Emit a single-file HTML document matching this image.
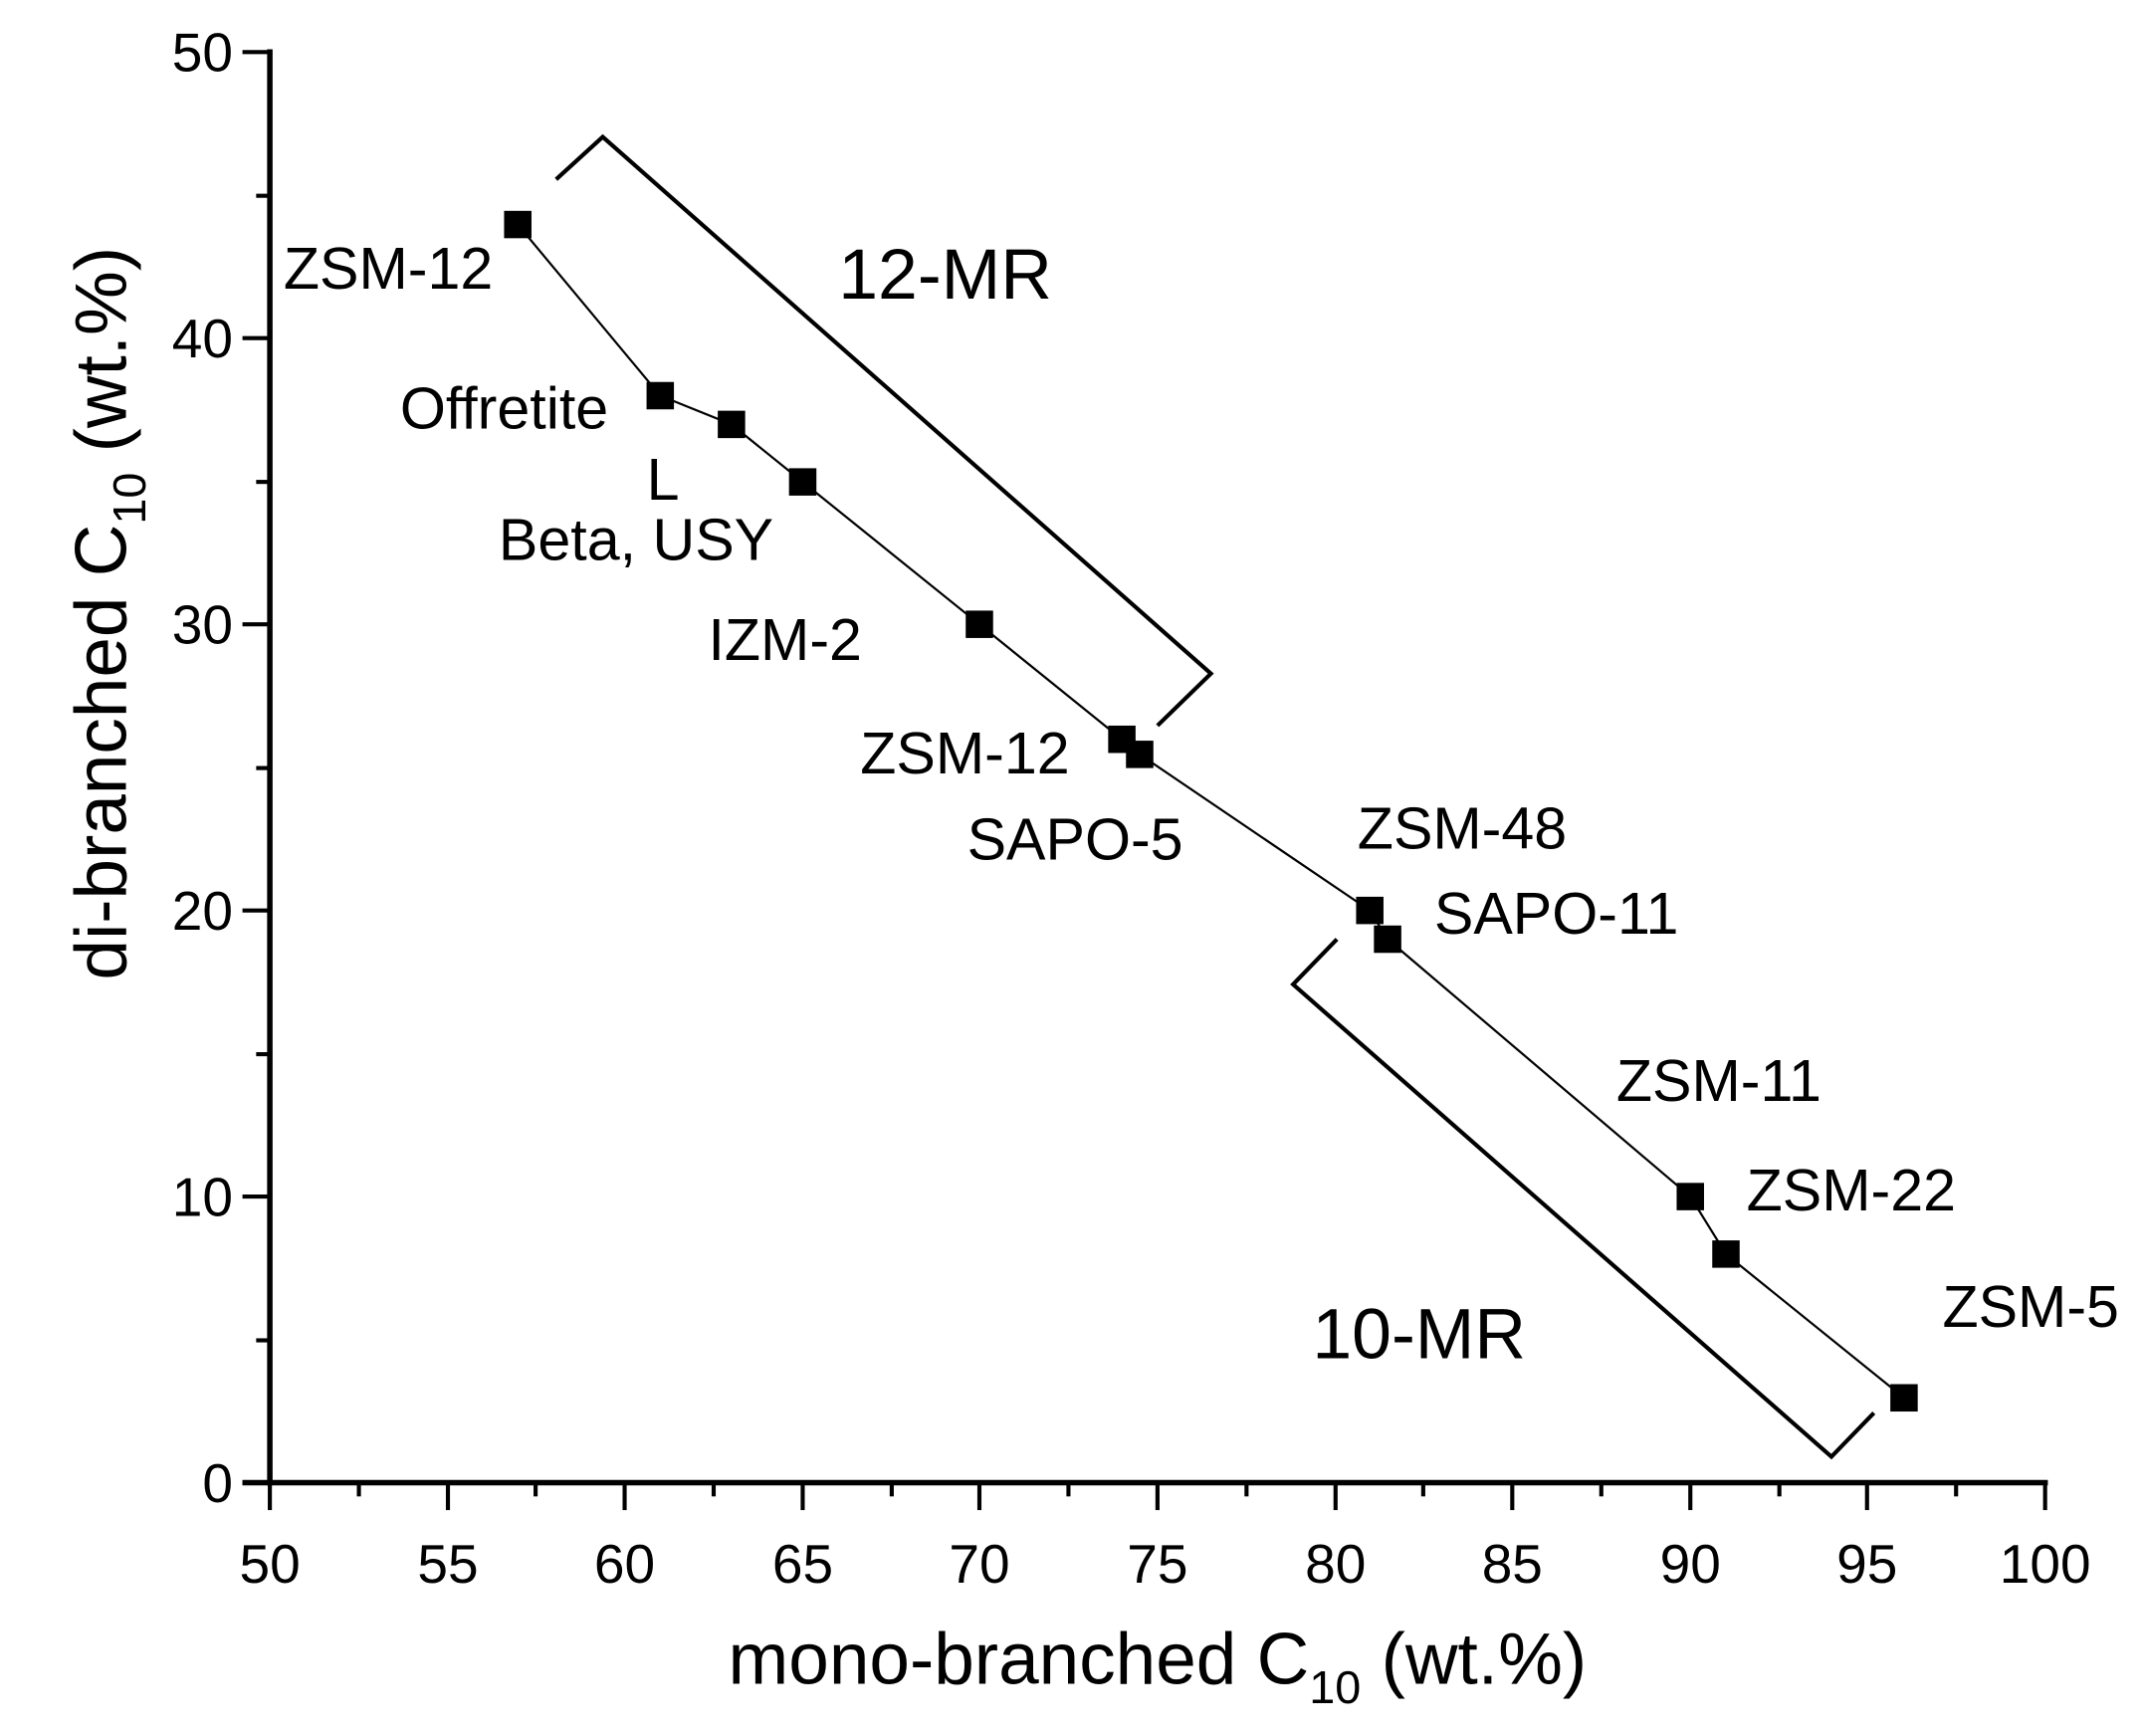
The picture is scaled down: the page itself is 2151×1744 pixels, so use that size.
<!DOCTYPE html>
<html><head><style>html,body{margin:0;padding:0;background:#fff}svg{display:block}</style></head>
<body>
<svg width="2151" height="1744" viewBox="0 0 1563 1268" preserveAspectRatio="none" xmlns="http://www.w3.org/2000/svg" font-family="Liberation Sans, Arial, sans-serif">
<rect width="1563" height="1268" fill="#fff"/>
<g stroke="#000" stroke-width="4" fill="none">
<line x1="197" y1="36" x2="197" y2="1085"/>
<line x1="177" y1="1083" x2="1495" y2="1083"/>
</g>
<g stroke="#000" stroke-width="3">
<line x1="177" y1="38" x2="197" y2="38"/>
<line x1="187" y1="143" x2="197" y2="143"/>
<line x1="177" y1="247" x2="197" y2="247"/>
<line x1="187" y1="352" x2="197" y2="352"/>
<line x1="177" y1="456" x2="197" y2="456"/>
<line x1="187" y1="561" x2="197" y2="561"/>
<line x1="177" y1="665" x2="197" y2="665"/>
<line x1="187" y1="770" x2="197" y2="770"/>
<line x1="177" y1="874" x2="197" y2="874"/>
<line x1="187" y1="979" x2="197" y2="979"/>
<line x1="177" y1="1083" x2="197" y2="1083"/>
<line x1="197" y1="1083" x2="197" y2="1103"/><line x1="262" y1="1083" x2="262" y2="1093"/>
<line x1="327" y1="1083" x2="327" y2="1103"/><line x1="391" y1="1083" x2="391" y2="1093"/>
<line x1="456" y1="1083" x2="456" y2="1103"/><line x1="521" y1="1083" x2="521" y2="1093"/>
<line x1="586" y1="1083" x2="586" y2="1103"/><line x1="651" y1="1083" x2="651" y2="1093"/>
<line x1="715" y1="1083" x2="715" y2="1103"/><line x1="780" y1="1083" x2="780" y2="1093"/>
<line x1="845" y1="1083" x2="845" y2="1103"/><line x1="910" y1="1083" x2="910" y2="1093"/>
<line x1="975" y1="1083" x2="975" y2="1103"/><line x1="1039" y1="1083" x2="1039" y2="1093"/>
<line x1="1104" y1="1083" x2="1104" y2="1103"/><line x1="1169" y1="1083" x2="1169" y2="1093"/>
<line x1="1234" y1="1083" x2="1234" y2="1103"/><line x1="1299" y1="1083" x2="1299" y2="1093"/>
<line x1="1363" y1="1083" x2="1363" y2="1103"/><line x1="1428" y1="1083" x2="1428" y2="1093"/>
<line x1="1493" y1="1083" x2="1493" y2="1103"/>
</g>
<g font-size="40" text-anchor="end">
<text x="170" y="52">50</text><text x="170" y="261">40</text><text x="170" y="470">30</text>
<text x="170" y="679">20</text><text x="170" y="888">10</text><text x="170" y="1097">0</text>
</g>
<g font-size="40" text-anchor="middle">
<text x="197" y="1156">50</text><text x="327" y="1156">55</text><text x="456" y="1156">60</text>
<text x="586" y="1156">65</text><text x="715" y="1156">70</text><text x="845" y="1156">75</text>
<text x="975" y="1156">80</text><text x="1104" y="1156">85</text><text x="1234" y="1156">90</text>
<text x="1363" y="1156">95</text><text x="1493" y="1156">100</text>
</g>
<text x="845" y="1230" font-size="53" text-anchor="middle">mono-branched C<tspan font-size="34" dy="14">10</tspan><tspan dy="-14"> (wt.%)</tspan></text>
<text transform="translate(92,448) rotate(-90)" font-size="53" text-anchor="middle">di-branched C<tspan font-size="34" dy="14">10</tspan><tspan dy="-14"> (wt.%)</tspan></text>
<polyline fill="none" stroke="#000" stroke-width="1.6" points="378,164 482,289 534,310 586,352 715,456 819,540 832,551 1000,665 1013,686 1234,874 1260,916 1390,1021"/>
<g fill="#000">
<rect x="368" y="154" width="20" height="20"/><rect x="472" y="279" width="20" height="20"/>
<rect x="524" y="300" width="20" height="20"/><rect x="576" y="342" width="20" height="20"/>
<rect x="705" y="446" width="20" height="20"/><rect x="809" y="530" width="20" height="20"/>
<rect x="822" y="541" width="20" height="20"/><rect x="990" y="655" width="20" height="20"/>
<rect x="1003" y="676" width="20" height="20"/><rect x="1224" y="864" width="20" height="20"/>
<rect x="1250" y="906" width="20" height="20"/><rect x="1380" y="1011" width="20" height="20"/>
</g>
<g fill="none" stroke="#000" stroke-width="3">
<polyline points="406,131 440,100 884,492 845,530"/>
<polyline points="976,686 944,719 1337,1064 1368,1032"/>
</g>
<g font-size="43">
<text x="207" y="211">ZSM-12</text>
<text x="292" y="313">Offretite</text>
<text x="472" y="365">L</text>
<text x="364" y="409">Beta, USY</text>
<text x="517" y="482">IZM-2</text>
<text x="628" y="565">ZSM-12</text>
<text x="706" y="628">SAPO-5</text>
<text x="991" y="620">ZSM-48</text>
<text x="1047" y="682">SAPO-11</text>
<text x="1180" y="804">ZSM-11</text>
<text x="1275" y="884">ZSM-22</text>
<text x="1418" y="969">ZSM-5</text>
</g>
<g font-size="52">
<text x="612" y="218">12-MR</text>
<text x="958" y="992">10-MR</text>
</g>
</svg>
</body></html>
